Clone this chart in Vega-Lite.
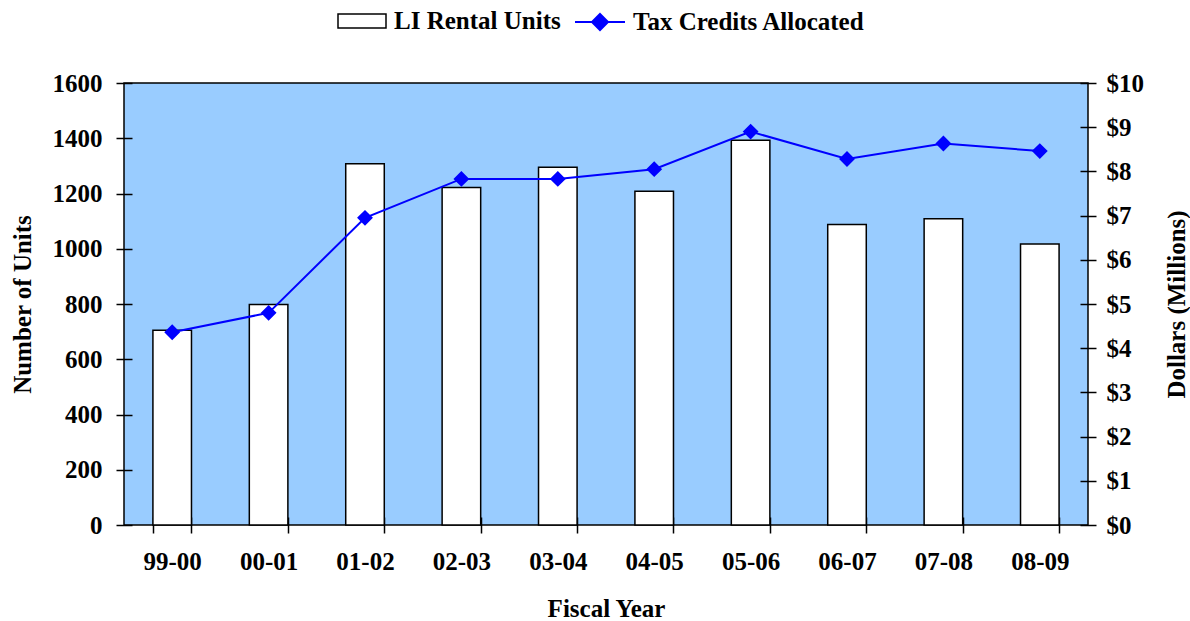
{
  "$schema": "https://vega.github.io/schema/vega-lite/v6.json",
  "width": 964,
  "height": 442,
  "autosize": {"type": "none"},
  "padding": {"left": 124, "top": 83, "right": 102, "bottom": 96},
  "background": "white",
  "config": {
    "view": {"fill": "#99CCFF", "stroke": "#000", "strokeWidth": 1.5},
    "font": "Liberation Serif, Times New Roman, serif",
    "axis": {
      "labelFont": "Liberation Serif, Times New Roman, serif", "labelFontSize": 25, "labelFontWeight": "bold", "labelColor": "#000",
      "titleFont": "Liberation Serif, Times New Roman, serif", "titleFontSize": 25, "titleFontWeight": "bold", "titleColor": "#000",
      "domain": false, "tickColor": "#000", "tickWidth": 1.5, "tickSize": 16, "offset": -8, "grid": false
    },
    "legend": {
      "labelFont": "Liberation Serif, Times New Roman, serif", "labelFontSize": 25, "labelFontWeight": "bold", "labelColor": "#000",
      "labelOffset": 7, "labelLimit": 0
    }
  },
  "data": {
    "values": [
      {"year": "99-00", "units": 705, "credits": 4.36},
      {"year": "00-01", "units": 798, "credits": 4.80},
      {"year": "01-02", "units": 1308, "credits": 6.95},
      {"year": "02-03", "units": 1222, "credits": 7.83},
      {"year": "03-04", "units": 1295, "credits": 7.83},
      {"year": "04-05", "units": 1208, "credits": 8.05},
      {"year": "05-06", "units": 1393, "credits": 8.90},
      {"year": "06-07", "units": 1088, "credits": 8.28},
      {"year": "07-08", "units": 1109, "credits": 8.63},
      {"year": "08-09", "units": 1017, "credits": 8.46}
    ]
  },
  "layer": [
    {
      "mark": {"type": "bar", "fill": "white", "stroke": "#000", "strokeWidth": 1.5},
      "encoding": {
        "x": {
          "field": "year", "type": "ordinal", "sort": null,
          "scale": {"paddingInner": 0.6, "paddingOuter": 0.3},
          "axis": {"title": "Fiscal Year", "labelAngle": 0, "tickBand": "extent", "labelPadding": 16, "titlePadding": 22}
        },
        "y": {
          "field": "units", "type": "quantitative", "scale": {"domain": [0, 1600]},
          "axis": {"title": "Number of Units", "values": [0, 200, 400, 600, 800, 1000, 1200, 1400, 1600], "format": "d", "labelPadding": 14, "titlePadding": 17}
        },
        "fill": {
          "datum": "LI Rental Units", "type": "nominal", "scale": {"range": ["white"]},
          "legend": {"title": null, "orient": "none", "legendX": 213, "legendY": -87, "labelLimit": 0, "symbolType": "M-1,-0.29H1V0.29H-1Z", "symbolSize": 2304, "symbolStrokeColor": "#000", "symbolStrokeWidth": 1.5, "symbolFillColor": "white",
            "encode": {"symbols": {"update": {"stroke": {"value": "#000"}, "strokeWidth": {"value": 1.5}}}}}
        }
      }
    },
    {
      "mark": {"type": "line", "color": "#0000FF", "strokeWidth": 2, "point": {"shape": "diamond", "size": 170, "filled": true, "color": "#0000FF"}},
      "encoding": {
        "x": {"field": "year", "type": "ordinal", "sort": null},
        "y": {
          "field": "credits", "type": "quantitative", "scale": {"domain": [0, 10]},
          "axis": {"orient": "right", "title": "Dollars (Millions)", "titleAngle": -90, "values": [0, 1, 2, 3, 4, 5, 6, 7, 8, 9, 10], "format": "$.0f", "labelPadding": 10, "titlePadding": 46}
        },
        "stroke": {
          "datum": "Tax Credits Allocated", "type": "nominal", "scale": {"range": ["#0000FF"]},
          "legend": {"title": null, "orient": "none", "legendX": 450, "legendY": -87, "labelLimit": 0, "symbolType": "M-1,0H1M0,-0.32L0.32,0L0,0.32L-0.32,0Z", "symbolSize": 2500, "symbolStrokeWidth": 2,
            "encode": {"symbols": {"update": {"fill": {"value": "#0000FF"}, "stroke": {"value": "#0000FF"}, "strokeWidth": {"value": 2}}}}}
        }
      }
    }
  ],
  "resolve": {"scale": {"y": "independent"}}
}
